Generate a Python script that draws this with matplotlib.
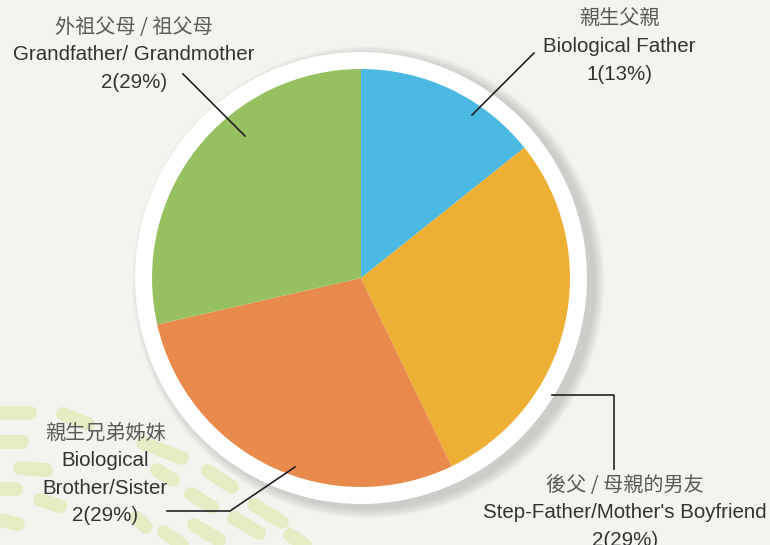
import matplotlib.pyplot as plt
from matplotlib.patches import Circle

# data
counts = [1, 2, 2, 2]
names_zh = ['親生父親', '後父 / 母親的男友', '親生兄弟姊妹', '外祖父母 / 祖父母']
names_en = [['Biological Father'],
            ["Step-Father/Mother's Boyfriend"],
            ['Biological', 'Brother/Sister'],
            ['Grandfather/ Grandmother']]
pct_text = ['1(13%)', '2(29%)', '2(29%)', '2(29%)']
colors = ['#4bb9e1', '#eeb034', '#e88a4b', '#97c161']

W, H = 770, 545
R = 209.0        # pie radius in pixels
CX, CY = 361, 278


def px(x, y):
    # pixel position -> data coords (pie radius = 1)
    return (x - CX) / R, (CY - y) / R


fig = plt.figure(figsize=(W / 100, H / 100), dpi=100)
fig.patch.set_facecolor('#f2f4ee')
ax = fig.add_axes([0, 0, 1, 1])

wedges, _ = ax.pie(counts, colors=colors, startangle=90, counterclock=False,
                   radius=1.0, wedgeprops=dict(linewidth=0))
for w in wedges:
    w.set_zorder(3)

ax.set_xlim(-CX / R, (W - CX) / R)
ax.set_ylim(-(H - CY) / R, CY / R)
ax.set_aspect('equal')
ax.axis('off')

# decorative lime dashes (bottom left)
dashes = [((0, 413), (30, 413)), ((0, 442), (22, 442)), ((20, 468), (46, 470)),
          ((0, 489), (16, 489)), ((63, 414), (88, 424)), ((143, 443), (182, 458)),
          ((157, 470), (173, 480)), ((208, 471), (232, 487)), ((191, 494), (212, 507)),
          ((254, 505), (282, 522)), ((234, 518), (259, 533)), ((194, 525), (219, 540)),
          ((164, 532), (182, 545)), ((137, 518), (146, 527)), ((40, 500), (60, 506)),
          ((0, 520), (18, 524)), ((290, 535), (305, 545))]
for a, b in dashes:
    xa, ya = px(*a)
    xb, yb = px(*b)
    ax.plot([xa, xb], [ya, yb], color='#e5ecc4', lw=10, solid_capstyle='round', zorder=0)

# soft shadow behind the white ring
ring = 226 / R
for i in range(12):
    ax.add_patch(Circle((0.035, -0.02), ring + 0.004 * (12 - i), color='#8a8a8a',
                        alpha=0.03, lw=0, zorder=1))
ax.add_patch(Circle((0, 0), ring, color='white', lw=0, zorder=2))

# label layout (pixel centre x, first line y)
label_pos = [(619, 19), (625, 485), (105, 433), (134, 27)]
step = 27.5
for i in range(len(counts)):
    x0, y0 = label_pos[i]
    lines = [names_zh[i]] + names_en[i] + [pct_text[i]]
    for j, s in enumerate(lines):
        tx, ty = px(x0, y0 + j * step)
        if j == 0:
            ax.text(tx, ty, s, ha='center', va='center', fontsize=14.5, color='#5a5a5a',
                    family=['Noto Sans CJK TC', 'DejaVu Sans'], zorder=5)
        else:
            ax.text(tx, ty, s, ha='center', va='center', fontsize=14.8, color='#333333',
                    family=['Liberation Sans', 'DejaVu Sans'], zorder=5)

# leader lines
leaders = [[(534, 53), (472, 115)],
           [(552, 395), (614, 395), (614, 469)],
           [(167, 511), (230, 511), (295, 467)],
           [(183, 74), (245, 136)]]
for pts in leaders:
    xs = [px(*p)[0] for p in pts]
    ys = [px(*p)[1] for p in pts]
    ax.plot(xs, ys, color='#222222', lw=1.2, zorder=6)

fig.savefig('out.png', dpi=100, facecolor=fig.get_facecolor())
